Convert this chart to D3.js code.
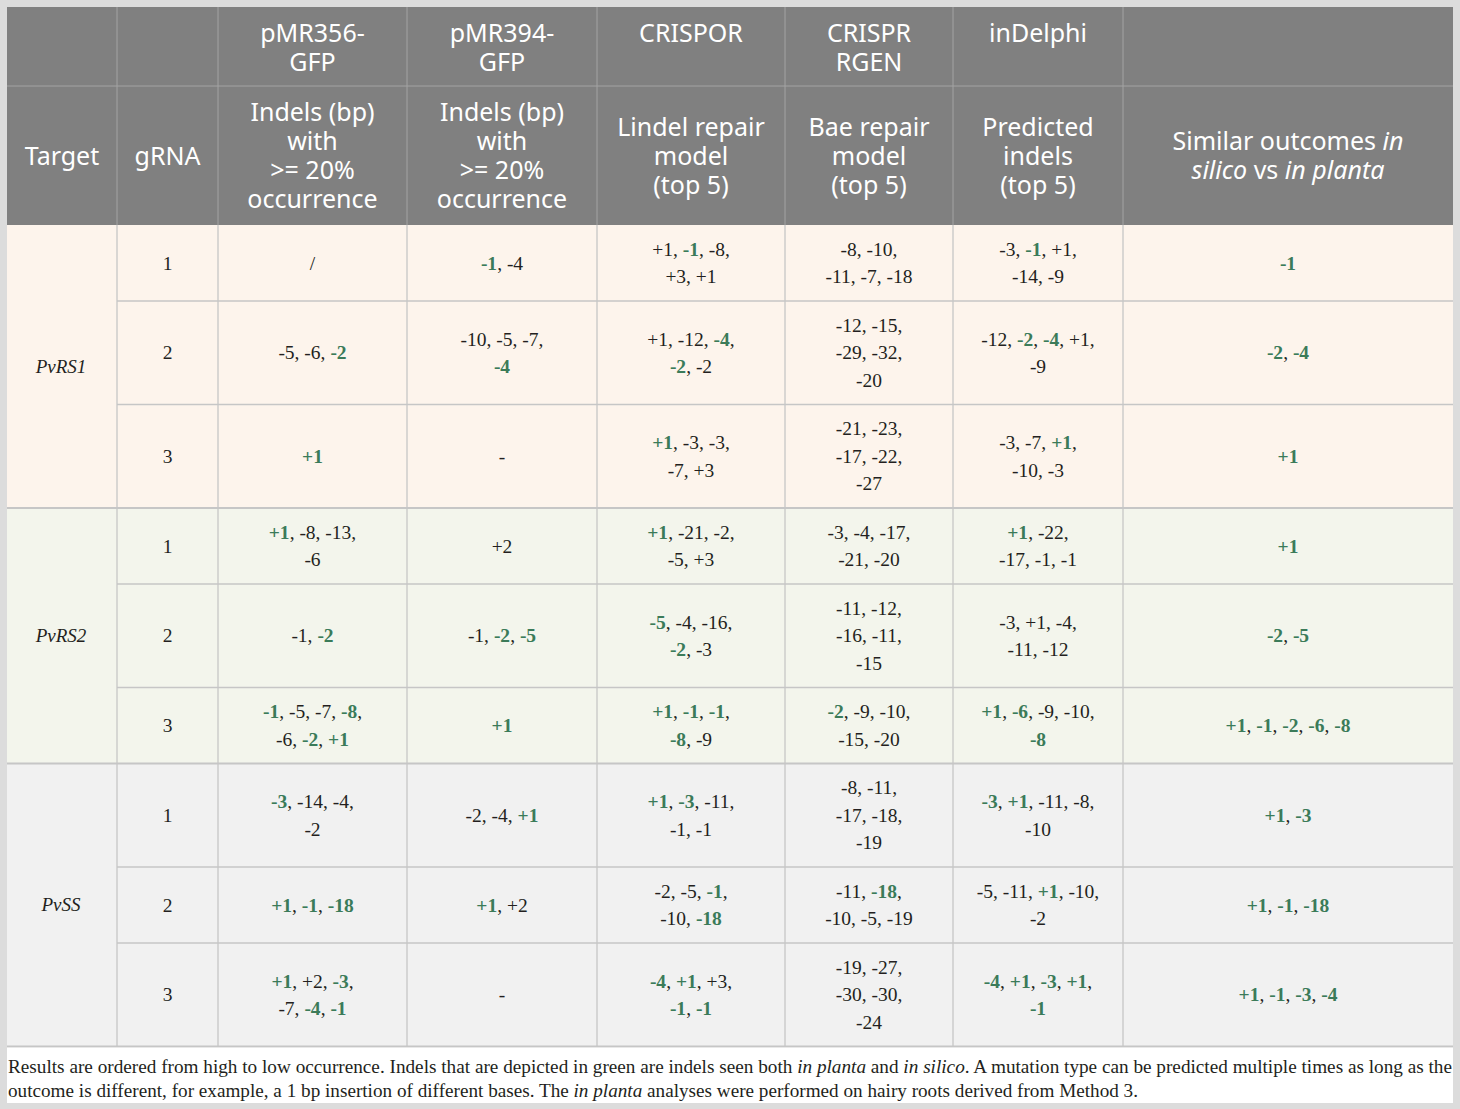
<!DOCTYPE html>
<html><head><meta charset="utf-8">
<script src="https://cdn.jsdelivr.net/npm/d3@7/dist/d3.min.js"></script>
<style>html,body{margin:0;padding:0;background:#dcdcdc;}svg{display:block;}</style>
</head><body>
<script>
// ---------- DATA ----------
const targets = ["PvRS1", "PvRS2", "PvSS"];
const gRNAs = ["1", "2", "3", "1", "2", "3", "1", "2", "3"];
const headerTop = ["", "", "pMR356-|GFP", "pMR394-|GFP", "CRISPOR", "CRISPR|RGEN", "inDelphi", ""];
const headerSub = ["Target", "gRNA", "Indels (bp)|with|>= 20%|occurrence", "Indels (bp)|with|>= 20%|occurrence",
  "Lindel repair|model|(top 5)", "Bae repair|model|(top 5)", "Predicted|indels|(top 5)",
  "Similar outcomes _in_|_silico_ vs _in planta_"];
// "*x*" = indel seen both in planta and in silico (green); "|" = line break
const pMR356 = ["/", "-5, -6, *-2*", "*+1*",
  "*+1*, -8, -13,|-6", "-1, *-2*", "*-1*, -5, -7, *-8*,|-6, *-2*, *+1*",
  "*-3*, -14, -4,|-2", "*+1*, *-1*, *-18*", "*+1*, +2, *-3*,|-7, *-4*, *-1*"];
const pMR394 = ["*-1*, -4", "-10, -5, -7,|*-4*", "-",
  "+2", "-1, *-2*, *-5*", "*+1*",
  "-2, -4, *+1*", "*+1*, +2", "-"];
const lindel = ["+1, *-1*, -8,|+3, +1", "+1, -12, *-4*,|*-2*, -2", "*+1*, -3, -3,|-7, +3",
  "*+1*, -21, -2,|-5, +3", "*-5*, -4, -16,|*-2*, -3", "*+1*, *-1*, *-1*,|*-8*, -9",
  "*+1*, *-3*, -11,|-1, -1", "-2, -5, *-1*,|-10, *-18*", "*-4*, *+1*, +3,|*-1*, *-1*"];
const bae = ["-8, -10,|-11, -7, -18", "-12, -15,|-29, -32,|-20", "-21, -23,|-17, -22,|-27",
  "-3, -4, -17,|-21, -20", "-11, -12,|-16, -11,|-15", "*-2*, -9, -10,|-15, -20",
  "-8, -11,|-17, -18,|-19", "-11, *-18*,|-10, -5, -19", "-19, -27,|-30, -30,|-24"];
const indelphi = ["-3, *-1*, +1,|-14, -9", "-12, *-2*, *-4*, +1,|-9", "-3, -7, *+1*,|-10, -3",
  "*+1*, -22,|-17, -1, -1", "-3, +1, -4,|-11, -12", "*+1*, *-6*, -9, -10,|*-8*",
  "*-3*, *+1*, -11, -8,|-10", "-5, -11, *+1*, -10,|-2", "*-4*, *+1*, *-3*, *+1*,|*-1*"];
const similar = ["*-1*", "*-2*, *-4*", "*+1*",
  "*+1*", "*-2*, *-5*", "*+1*, *-1*, *-2*, *-6*, *-8*",
  "*+1*, *-3*", "*+1*, *-1*, *-18*", "*+1*, *-1*, *-3*, *-4*"];
const footnote1 = "Results are ordered from high to low occurrence. Indels that are depicted in green are indels seen both _in planta_ and _in silico_. A mutation type can be predicted multiple times as long as the";
const footnote2 = "outcome is different, for example, a 1 bp insertion of different bases. The _in planta_ analyses were performed on hairy roots derived from Method 3.";

// ---------- LAYOUT ----------
const W = 1460, H = 1109;
const X0 = 7, Y0 = 7;
const colWidths = [110, 101, 189, 190, 188, 168, 170, 330];
const headRowH = [79, 139];
const bodyLine = 27.5, bodyPad = 21;
const headLine = 29;
const sans = "'Noto Sans', 'Open Sans', sans-serif";
const serif = "'Liberation Serif', 'DejaVu Serif', serif";
const green = "#3b7b59", ink = "#231f20";
const bgByTarget = ["#fdf4ec", "#f3f5ec", "#f1f1f1"];

const xEdges = [X0, ...d3.cumsum(colWidths).map(v => v + X0)];
const x = d3.scaleOrdinal().domain(d3.range(8)).range(xEdges.slice(0, 8));
const colW = i => colWidths[i];
const tableRight = xEdges[8];

const columns = [null, gRNAs, pMR356, pMR394, lindel, bae, indelphi, similar];
const nRows = gRNAs.length;
const lineCount = s => s.split("|").length;
const rowLines = d3.range(nRows).map(r => d3.max(columns.slice(2), c => lineCount(c[r])));
const rowH = rowLines.map(n => n * bodyLine + bodyPad);
const bodyTop = Y0 + headRowH[0] + headRowH[1];
const yEdges = [bodyTop, ...d3.cumsum(rowH).map(v => v + bodyTop)];
const bodyBottom = yEdges[nRows];

const svg = d3.select("body").append("svg").attr("width", W).attr("height", H);
svg.append("rect").attr("width", W).attr("height", H).attr("fill", "#dcdcdc");

// parse markup into segments
function segs(line, mark) {
  const re = mark === "*" ? /(\*[^*]+\*)/ : /(_[^_]+_)/;
  return line.split(re).filter(s => s.length).map(s => {
    const on = s[0] === mark && s[s.length - 1] === mark && s.length > 1;
    return {t: on ? s.slice(1, -1) : s, on};
  });
}

// multi-line text block as a single <text> element
function block(g, label, cx, y0, lh, mark, styleSeg, attrs) {
  const t = g.append("text").attr("text-anchor", "middle");
  Object.entries(attrs).forEach(([k, v]) => t.attr(k, v));
  label.split("|").forEach((ln, k) => {
    segs(ln, mark).forEach((s, j) => {
      const sp = t.append("tspan").text(s.t);
      if (j === 0) sp.attr("x", cx).attr("y", y0 + k * lh);
      styleSeg(sp, s.on);
    });
  });
  return t;
}

// ---------- HEADER ----------
const head = svg.append("g");
head.append("rect").attr("x", X0).attr("y", Y0).attr("width", tableRight - X0)
  .attr("height", headRowH[0] + headRowH[1]).attr("fill", "#808080");

const headAttrs = {"font-family": sans, "font-size": 25, "fill": "#ffffff"};
const italicSeg = (sp, on) => sp.attr("font-style", on ? "italic" : "normal");
headerTop.forEach((lab, i) => {
  if (!lab) return;
  block(head, lab, x(i) + colW(i) / 2, Y0 + 35, headLine, "_", italicSeg, headAttrs);
});
headerSub.forEach((lab, i) => {
  const n = lab.split("|").length;
  const y0 = Y0 + headRowH[0] + headRowH[1] / 2 - (n - 1) * headLine / 2 + 9;
  block(head, lab, x(i) + colW(i) / 2, y0, headLine, "_", italicSeg, headAttrs);
});

// header grid
const hg = "#a3a3a3";
xEdges.slice(1, 8).forEach(xx => head.append("line").attr("x1", xx).attr("x2", xx)
  .attr("y1", Y0).attr("y2", bodyTop).attr("stroke", hg).attr("stroke-width", 1));
head.append("line").attr("x1", X0).attr("x2", tableRight).attr("y1", Y0 + headRowH[0]).attr("y2", Y0 + headRowH[0])
  .attr("stroke", hg).attr("stroke-width", 1);

// ---------- BODY ----------
const body = svg.append("g");
targets.forEach((tg, ti) => {
  const y1 = yEdges[ti * 3], y2 = yEdges[ti * 3 + 3];
  body.append("rect").attr("x", X0).attr("y", y1).attr("width", tableRight - X0)
    .attr("height", y2 - y1).attr("fill", bgByTarget[ti]);
  body.append("text").attr("x", x(0) + colW(0) / 2 - 1).attr("y", (y1 + y2) / 2 + 6)
    .attr("text-anchor", "middle").attr("font-family", serif).attr("font-style", "italic")
    .attr("font-size", 19).attr("fill", ink).text(tg);
});

const bodyAttrs = {"font-family": serif, "font-size": 19.5};
const greenSeg = (sp, on) => sp.attr("fill", on ? green : ink).attr("font-weight", on ? "bold" : "normal");
for (let r = 0; r < nRows; r++) {
  const cy = (yEdges[r] + yEdges[r + 1]) / 2;
  for (let c = 1; c < 8; c++) {
    const val = columns[c][r];
    const n = lineCount(val);
    const y0 = cy - (n - 1) * bodyLine / 2 + 6.5;
    block(body, val, x(c) + colW(c) / 2, y0, bodyLine, "*", greenSeg, bodyAttrs);
  }
}

// body grid
const bgc = "#c6c6c6";
xEdges.slice(1, 8).forEach(xx => body.append("line").attr("x1", xx).attr("x2", xx)
  .attr("y1", bodyTop).attr("y2", bodyBottom).attr("stroke", bgc).attr("stroke-width", 1.3));
yEdges.slice(1, nRows + 1).forEach((yy, i) => {
  const full = (i + 1) % 3 === 0;
  body.append("line").attr("x1", full ? X0 : xEdges[1]).attr("x2", tableRight)
    .attr("y1", yy).attr("y2", yy).attr("stroke", bgc).attr("stroke-width", full ? 2 : 1.3);
});

// ---------- FOOTNOTE ----------
const fnTop = bodyBottom + 1, fnBottom = 1103;
svg.append("rect").attr("x", X0).attr("y", fnTop).attr("width", tableRight - X0)
  .attr("height", fnBottom - fnTop).attr("fill", "#ffffff");
function foot(str, y, len) {
  const t = svg.append("text").attr("x", X0 + 1).attr("y", y).attr("font-family", serif)
    .attr("font-size", 18.5).attr("fill", ink).attr("textLength", len).attr("lengthAdjust", "spacingAndGlyphs");
  segs(str, "_").forEach(s => t.append("tspan").text(s.t).attr("font-style", s.on ? "italic" : "normal"));
}
foot(footnote1, 1073, tableRight - X0 - 2);
foot(footnote2, 1097, 1130);
</script>
</body></html>
